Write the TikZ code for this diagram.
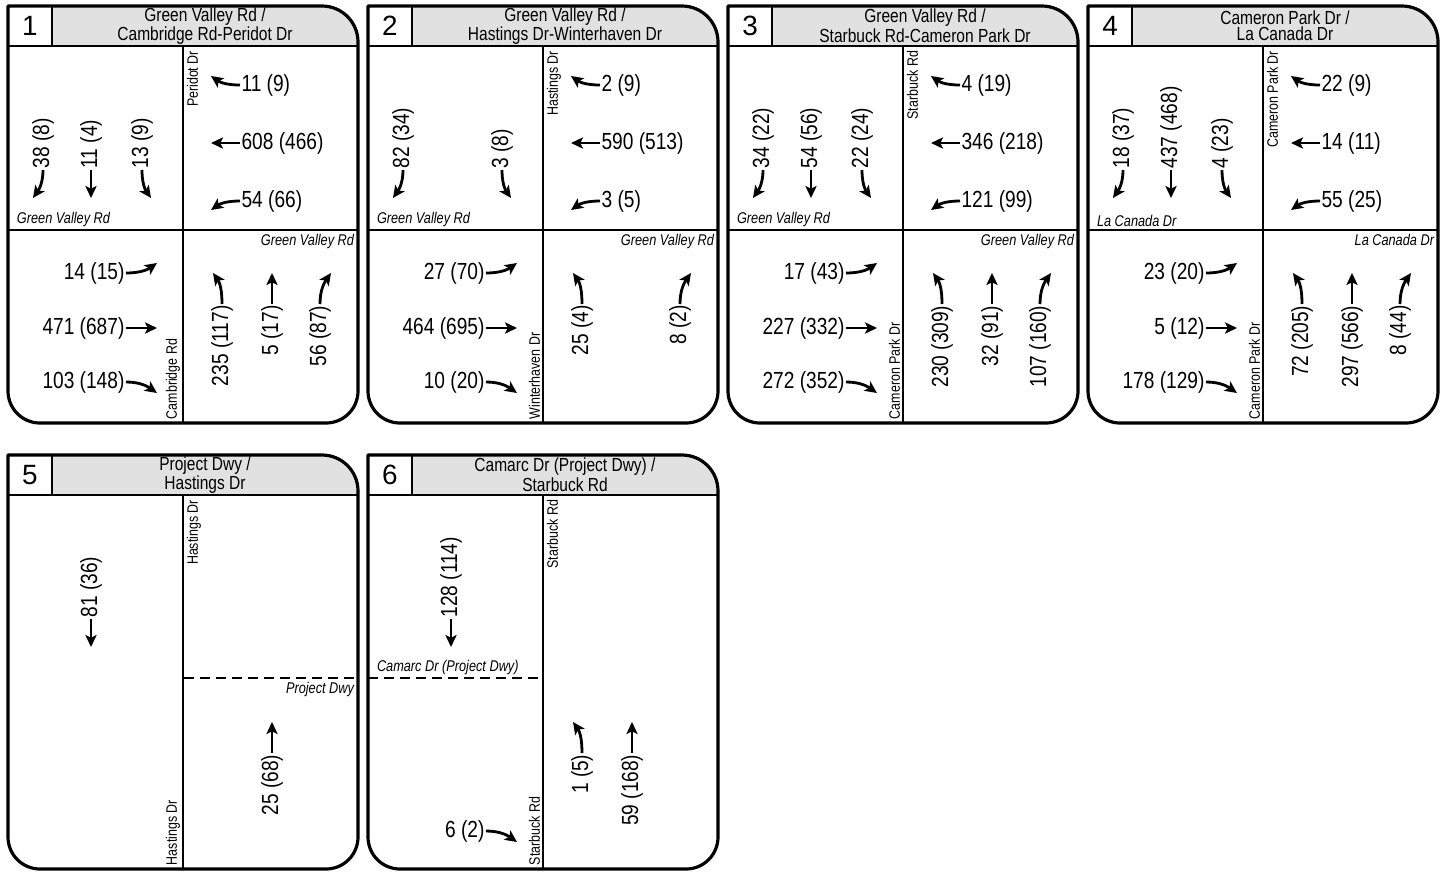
\documentclass[tikz,border=0pt]{standalone}
\usepackage{fontspec}
\setmainfont{Liberation Sans}[FakeStretch=0.82]
\newfontfamily\numfont{Liberation Sans}
\usetikzlibrary{arrows.meta}
\definecolor{hdrgray}{RGB}{225,225,225}

% frame, number box and title of one intersection
\newcommand{\panelframe}[4]{%
  \fill[hdrgray] (44,0) -- (314,0) arc[start angle=-90,end angle=0,radius=36] -- (350,40) -- (44,40) -- cycle;
  \draw[road] (0,40) -- (350,40);
  \draw[road] (44,0) -- (44,40);
  \node[numbox] (#1-num) at (22,20) {#2};
  \node[hdrtitle] (#1-title) at (197,20) {#3};
  \draw[panelline] (0,0) -- (314,0) arc[start angle=-90,end angle=0,radius=36]
    -- (350,#4-32) arc[start angle=0,end angle=90,radius=32]
    -- (32,#4) arc[start angle=90,end angle=180,radius=32] -- cycle;
}
% southbound, lane 0 = right, 1 = through, 2 = left
\newcommand{\sbvol}[3]{%
  \pgfmathsetmacro\lanex{{35,83,134}[#2]}%
  \pgfmathsetmacro\tipd{{-10,0,9}[#2]}%
  \pgfmathsetmacro\inang{{55,90,125}[#2]}%
  \node[vol,rotate=90,anchor=west] (#1) at (\lanex,164) {#3};
  \draw[mov] (#1.west) to[out=-90,in=\inang] ++(\tipd,28) coordinate (#1-tip);
}
% westbound, lane 0 = right, 1 = through, 2 = left
\newcommand{\wbvol}[3]{%
  \pgfmathsetmacro\laney{{79,137,195}[#2]}%
  \pgfmathsetmacro\tipd{{-9,0,9}[#2]}%
  \pgfmathsetmacro\inang{{-35,0,35}[#2]}%
  \node[vol,anchor=west] (#1) at (232,\laney) {#3};
  \draw[mov] (#1.west) to[out=180,in=\inang] ++(-29,\tipd) coordinate (#1-tip);
}
% eastbound, lane 0 = left, 1 = through, 2 = right
\newcommand{\ebvol}[3]{%
  \pgfmathsetmacro\laney{{267,322,376}[#2]}%
  \pgfmathsetmacro\tipd{{-10,0,11}[#2]}%
  \pgfmathsetmacro\inang{{215,180,145}[#2]}%
  \node[vol,anchor=east] (#1) at (118,\laney) {#3};
  \draw[mov] (#1.east) to[out=0,in=\inang] ++(31,\tipd) coordinate (#1-tip);
}
% northbound, lane 0 = left, 1 = through, 2 = right
\newcommand{\nbvol}[3]{%
  \pgfmathsetmacro\lanex{{214,264,312}[#2]}%
  \pgfmathsetmacro\tipd{{-9,0,11}[#2]}%
  \pgfmathsetmacro\inang{{-55,-90,235}[#2]}%
  \node[vol,rotate=90,anchor=east] (#1) at (\lanex,298) {#3};
  \draw[mov] (#1.east) to[out=90,in=\inang] ++(\tipd,-31) coordinate (#1-tip);
}

\begin{document}
\begin{tikzpicture}[x=0.5bp,y=-0.5bp]
\tikzset{
  panelline/.style={line width=1.6bp,line join=round},
  road/.style={line width=1.35bp},
  mov/.style={line width=1.4bp,-{Stealth[length=6bp,width=5.6bp,inset=1.4bp]}},
  vol/.style={font=\fontsize{11.7}{12}\selectfont,inner sep=0.6bp},
  street/.style={font=\fontsize{7.6}{8}\selectfont,inner sep=0.8bp},
  streetit/.style={font=\fontsize{7.8}{8}\selectfont\itshape,inner sep=0.8bp},
  hdrtitle/.style={font=\fontsize{9.5}{8}\selectfont,align=center,inner sep=0pt},
  numbox/.style={font=\numfont\fontsize{14}{14}\selectfont,inner sep=0pt},
}
\useasboundingbox (0,0) rectangle (1452,871);

% 1
\begin{scope}[shift={(8,6)}]
  \draw[road] (175,40) -- (175,417);
  \draw[road] (0,224) -- (350,224);
  \panelframe{pa}{1}{Green Valley Rd /\\Cambridge Rd-Peridot Dr}{417}
  \node[street,rotate=90,anchor=north east] (pa-n) at (177,43) {Peridot Dr};
  \node[street,rotate=90,anchor=south west] (pa-s) at (174,415) {Cambridge Rd};
  \node[streetit,anchor=south west] (pa-w) at (7,223) {Green Valley Rd};
  \node[streetit,anchor=north east] (pa-e) at (348,226) {Green Valley Rd};
  \sbvol{pa-sb0}{0}{38 (8)} \sbvol{pa-sb1}{1}{11 (4)} \sbvol{pa-sb2}{2}{13 (9)}
  \wbvol{pa-wb0}{0}{11 (9)} \wbvol{pa-wb1}{1}{608 (466)} \wbvol{pa-wb2}{2}{54 (66)}
  \ebvol{pa-eb0}{0}{14 (15)} \ebvol{pa-eb1}{1}{471 (687)} \ebvol{pa-eb2}{2}{103 (148)}
  \nbvol{pa-nb0}{0}{235 (117)} \nbvol{pa-nb1}{1}{5 (17)} \nbvol{pa-nb2}{2}{56 (87)}
\end{scope}

% 2
\begin{scope}[shift={(368,6)}]
  \draw[road] (175,40) -- (175,417);
  \draw[road] (0,224) -- (350,224);
  \panelframe{pb}{2}{Green Valley Rd /\\Hastings Dr-Winterhaven Dr}{417}
  \node[street,rotate=90,anchor=north east] (pb-n) at (177,43) {Hastings Dr};
  \node[street,rotate=90,anchor=south west] (pb-s) at (174,415) {Winterhaven Dr};
  \node[streetit,anchor=south west] (pb-w) at (7,223) {Green Valley Rd};
  \node[streetit,anchor=north east] (pb-e) at (348,226) {Green Valley Rd};
  \sbvol{pb-sb0}{0}{82 (34)} \sbvol{pb-sb2}{2}{3 (8)}
  \wbvol{pb-wb0}{0}{2 (9)} \wbvol{pb-wb1}{1}{590 (513)} \wbvol{pb-wb2}{2}{3 (5)}
  \ebvol{pb-eb0}{0}{27 (70)} \ebvol{pb-eb1}{1}{464 (695)} \ebvol{pb-eb2}{2}{10 (20)}
  \nbvol{pb-nb0}{0}{25 (4)} \nbvol{pb-nb2}{2}{8 (2)}
\end{scope}

% 3
\begin{scope}[shift={(728,6)}]
  \draw[road] (175,40) -- (175,417);
  \draw[road] (0,224) -- (350,224);
  \panelframe{pc}{3}{Green Valley Rd /\\Starbuck Rd-Cameron Park Dr}{417}
  \node[street,rotate=90,anchor=north east] (pc-n) at (177,43) {Starbuck Rd};
  \node[street,rotate=90,anchor=south west] (pc-s) at (174,415) {Cameron Park Dr};
  \node[streetit,anchor=south west] (pc-w) at (7,223) {Green Valley Rd};
  \node[streetit,anchor=north east] (pc-e) at (348,226) {Green Valley Rd};
  \sbvol{pc-sb0}{0}{34 (22)} \sbvol{pc-sb1}{1}{54 (56)} \sbvol{pc-sb2}{2}{22 (24)}
  \wbvol{pc-wb0}{0}{4 (19)} \wbvol{pc-wb1}{1}{346 (218)} \wbvol{pc-wb2}{2}{121 (99)}
  \ebvol{pc-eb0}{0}{17 (43)} \ebvol{pc-eb1}{1}{227 (332)} \ebvol{pc-eb2}{2}{272 (352)}
  \nbvol{pc-nb0}{0}{230 (309)} \nbvol{pc-nb1}{1}{32 (91)} \nbvol{pc-nb2}{2}{107 (160)}
\end{scope}

% 4
\begin{scope}[shift={(1088,6)}]
  \draw[road] (175,40) -- (175,417);
  \draw[road] (0,224) -- (350,224);
  \panelframe{pd}{4}{Cameron Park Dr /\\La Canada Dr}{417}
  \node[street,rotate=90,anchor=north east] (pd-n) at (177,43) {Cameron Park Dr};
  \node[street,rotate=90,anchor=south west] (pd-s) at (174,415) {Cameron Park Dr};
  \node[streetit,anchor=south west] (pd-w) at (7,223) {La Canada Dr};
  \node[streetit,anchor=north east] (pd-e) at (348,226) {La Canada Dr};
  \sbvol{pd-sb0}{0}{18 (37)} \sbvol{pd-sb1}{1}{437 (468)} \sbvol{pd-sb2}{2}{4 (23)}
  \wbvol{pd-wb0}{0}{22 (9)} \wbvol{pd-wb1}{1}{14 (11)} \wbvol{pd-wb2}{2}{55 (25)}
  \ebvol{pd-eb0}{0}{23 (20)} \ebvol{pd-eb1}{1}{5 (12)} \ebvol{pd-eb2}{2}{178 (129)}
  \nbvol{pd-nb0}{0}{72 (205)} \nbvol{pd-nb1}{1}{297 (566)} \nbvol{pd-nb2}{2}{8 (44)}
\end{scope}

% 5
\begin{scope}[shift={(8,455)}]
  \draw[road] (175,40) -- (175,414);
  \draw[road,dash pattern=on 5bp off 3bp] (176,223) -- (350,223);
  \panelframe{pe}{5}{Project Dwy /\\Hastings Dr}{414}
  \node[street,rotate=90,anchor=north east] (pe-n) at (177,43) {Hastings Dr};
  \node[street,rotate=90,anchor=south west] (pe-s) at (174,412) {Hastings Dr};
  \node[streetit,anchor=north east] (pe-e) at (348,225) {Project Dwy};
  \sbvol{pe-sb1}{1}{81 (36)}
  \nbvol{pe-nb1}{1}{25 (68)}
\end{scope}

% 6
\begin{scope}[shift={(368,455)}]
  \draw[road] (175,40) -- (175,414);
  \draw[road,dash pattern=on 5bp off 3bp] (0,223) -- (174,223);
  \panelframe{pf}{6}{Camarc Dr (Project Dwy) /\\Starbuck Rd}{414}
  \node[street,rotate=90,anchor=north east] (pf-n) at (177,43) {Starbuck Rd};
  \node[street,rotate=90,anchor=south west] (pf-s) at (174,412) {Starbuck Rd};
  \node[streetit,anchor=south west] (pf-w) at (7,222) {Camarc Dr (Project Dwy)};
  \sbvol{pf-sb1}{1}{128 (114)}
  \ebvol{pf-eb2}{2}{6 (2)}
  \nbvol{pf-nb0}{0}{1 (5)} \nbvol{pf-nb1}{1}{59 (168)}
\end{scope}
\end{tikzpicture}
\end{document}
